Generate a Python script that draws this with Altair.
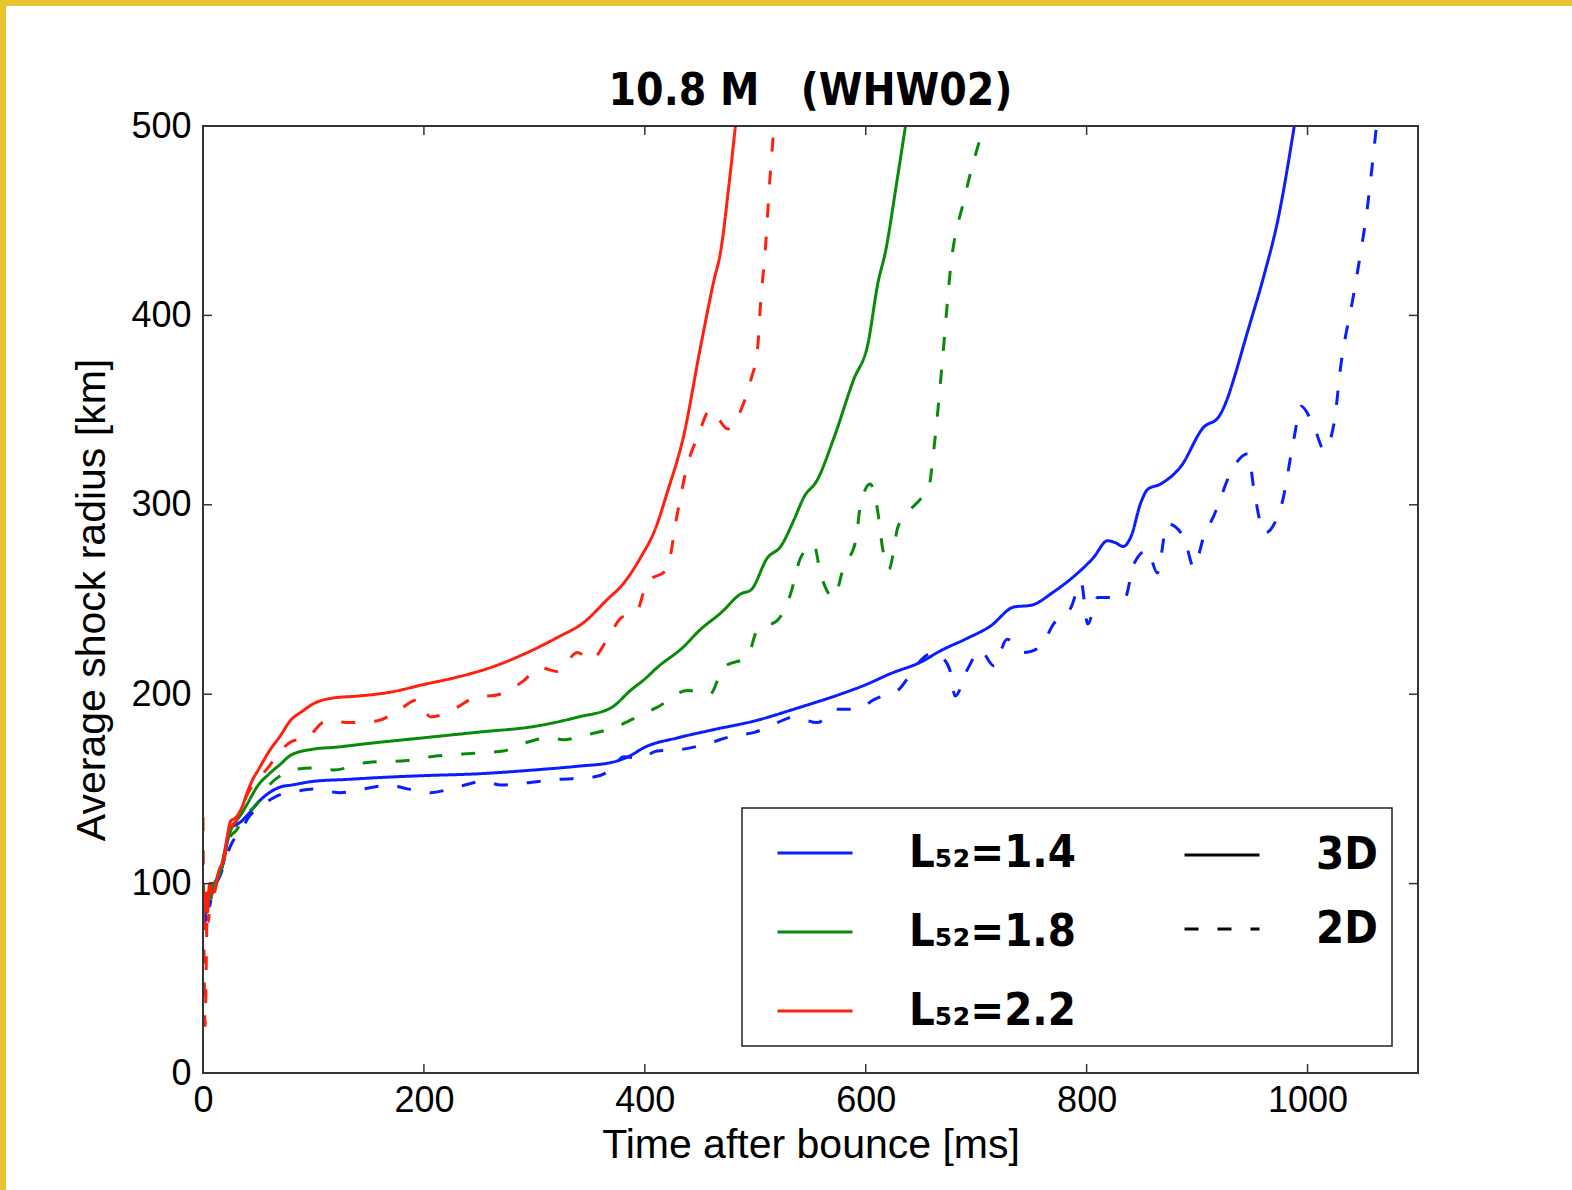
import altair as alt
import pandas as pd

AXIS_FONT = "Liberation Sans, Arial, sans-serif"
BOLD_FONT = "DejaVu Sans Condensed, DejaVu Sans, sans-serif"

# Average shock radius (km) against time after bounce (ms)
blue_3d_t = [0, 2, 4, 6, 8, 10, 14, 18, 22, 26, 30, 35, 40, 50, 60, 70, 80, 100, 130, 160, 200, 250,
             300, 340, 370, 385, 400, 430, 460, 500, 540, 577, 600, 623, 650, 668, 690, 713, 734, 750,
             770, 788, 806, 819, 826, 833, 840, 849, 855, 867, 885, 906, 919, 928, 933, 945, 961, 973, 988]
blue_3d_r = [90, 80, 95, 92, 100, 100, 105, 110, 122, 130, 131, 133, 136, 143, 148, 151, 152, 154, 155,
             156, 157, 158, 160, 162, 164, 167, 172, 177, 181, 186, 193, 200, 205, 211, 217, 223, 229,
             236, 246, 247, 254, 262, 272, 281, 280, 278, 283, 301, 308, 311, 320, 341, 346, 357, 366,
             390, 422, 450, 500]

blue_2d_t = [0, 2, 4, 6, 8, 12, 16, 20, 25, 30, 35, 40, 50, 60, 70, 79, 100, 124, 145, 169, 185, 206,
             230, 254, 270, 290, 320, 351, 369, 381, 395, 411, 435, 457, 480, 500, 520, 535, 556, 574,
             593, 607, 620, 629, 641, 650, 662, 668, 676, 681, 692, 704, 716, 728, 743, 758, 770, 786,
             795, 801, 810, 822, 834, 843, 855, 864, 873, 888, 897, 906, 915, 933, 946, 952, 961, 976,
             988, 994, 1006, 1015, 1024, 1030, 1042, 1055, 1062]
blue_2d_r = [95, 85, 92, 88, 95, 100, 105, 112, 120, 125, 128, 134, 140, 144, 147, 148, 150, 148, 150,
             152, 150, 148, 151, 154, 152, 153, 155, 156, 160, 167, 166, 170, 171, 174, 178, 180, 185,
             188, 185, 192, 192, 197, 200, 202, 211, 218, 222, 220, 213, 199, 213, 223, 215, 229, 222,
             225, 237, 246, 259, 237, 251, 251, 250, 269, 276, 264, 290, 283, 267, 283, 294, 320, 327,
             306, 285, 299, 336, 352, 341, 329, 343, 373, 412, 461, 498]

green_3d_t = [0, 3, 6, 10, 15, 20, 25, 30, 35, 40, 50, 60, 70, 80, 100, 120, 150, 200, 250, 300, 340,
              370, 387, 400, 411, 435, 450, 469, 487, 496, 511, 523, 535, 544, 556, 571, 589, 602, 611,
              618, 628, 636]
green_3d_r = [90, 85, 95, 100, 105, 118, 128, 133, 137, 142, 152, 158, 163, 168, 171, 172, 174, 177,
              180, 183, 188, 193, 202, 208, 214, 225, 234, 243, 253, 255, 272, 278, 292, 304, 313, 335,
              366, 385, 417, 434, 470, 500]

green_2d_t = [0, 3, 6, 10, 15, 20, 25, 30, 35, 40, 49, 60, 70, 79, 100, 118, 149, 185, 206, 251, 272,
              290, 314, 326, 351, 375, 393, 411, 439, 459, 471, 493, 502, 520, 532, 541, 553, 559, 571,
              580, 591, 595, 604, 611, 615, 621, 629, 638, 648, 657, 662, 666, 670, 677, 689, 707]
green_2d_r = [85, 95, 90, 100, 104, 115, 125, 128, 133, 137, 142, 152, 157, 160, 161, 160, 164, 165,
              167, 169, 170, 174, 177, 176, 179, 183, 188, 193, 202, 200, 214, 220, 234, 239, 253, 272,
              279, 264, 251, 267, 281, 299, 311, 296, 278, 266, 288, 296, 302, 309, 331, 354, 380, 426,
              461, 500]

red_3d_t = [0, 2, 4, 6, 8, 11, 14, 18, 22, 25, 30, 35, 40, 45, 50, 60, 70, 79, 90, 100, 118, 140, 169,
            199, 230, 260, 290, 321, 345, 366, 380, 396, 410, 420, 435, 450, 462, 469, 476, 482]
red_3d_r = [80, 95, 85, 100, 95, 97, 106, 112, 125, 133, 135, 140, 148, 155, 160, 170, 178, 186, 191,
            195, 198, 199, 201, 205, 209, 214, 221, 230, 238, 250, 258, 272, 288, 306, 336, 382, 417,
            435, 468, 500]

red_2d_t = [0, 2, 3, 4, 5, 7, 9, 12, 15, 18, 22, 26, 30, 35, 40, 50, 60, 70, 80, 94, 112, 133, 158,
            178, 194, 206, 230, 245, 269, 290, 305, 321, 339, 351, 366, 378, 393, 402, 420, 429, 439,
            448, 459, 467, 475, 487, 496, 502, 505, 509, 513, 517]
red_2d_r = [135, 25, 60, 95, 80, 100, 92, 100, 105, 110, 122, 130, 133, 140, 147, 155, 162, 170, 175,
            177, 186, 185, 186, 192, 197, 188, 193, 198, 200, 207, 214, 212, 222, 218, 229, 240, 244,
            259, 266, 294, 322, 336, 350, 345, 340, 350, 366, 382, 408, 434, 470, 500]

lum_labels = ["L\u2085\u2082=1.4", "L\u2085\u2082=1.8", "L\u2085\u2082=2.2"]
lum_colors = ["#0a1eff", "#0a8a0a", "#ff2010"]
dim_labels = ["3D", "2D"]

series = [
    (lum_labels[0], "3D", blue_3d_t, blue_3d_r),
    (lum_labels[0], "2D", blue_2d_t, blue_2d_r),
    (lum_labels[1], "3D", green_3d_t, green_3d_r),
    (lum_labels[1], "2D", green_2d_t, green_2d_r),
    (lum_labels[2], "3D", red_3d_t, red_3d_r),
    (lum_labels[2], "2D", red_2d_t, red_2d_r),
]
rows = []
for lum, dim, ts, rs in series:
    for t, r in zip(ts, rs):
        rows.append({"t": t, "r": r, "lum": lum, "dim": dim, "run": lum + " " + dim})
df = pd.DataFrame(rows)

x_ticks = [0, 200, 400, 600, 800, 1000]
y_ticks = [0, 100, 200, 300, 400, 500]

W, H = 1215, 947
xs = alt.Scale(domain=[0, 1100], nice=False, zero=False)
ys = alt.Scale(domain=[0, 500], nice=False)

label_style = dict(labelFont=AXIS_FONT, labelFontSize=36, labelColor="black", format="d",
                   labelFlush=False, labelOverlap=False,
                   titleFont=AXIS_FONT, titleFontSize=41, titleFontWeight="normal", titleColor="black",
                   grid=False, domain=False, ticks=False, zindex=2)
x_axis = alt.Axis(values=x_ticks, title="Time after bounce [ms]", labelPadding=10, titlePadding=7,
                  **label_style)
y_axis = alt.Axis(values=y_ticks, title="Average shock radius [km]", labelPadding=12, titlePadding=17,
                  **label_style)

one = alt.Data(values=[{}])

# white sheet over the yellow page border
sheet = alt.Chart(one).mark_rect(fill="white", clip=False).encode(
    x=alt.value(-197), x2=alt.value(1369), y=alt.value(-120), y2=alt.value(1064)
)

lines = alt.Chart(df).mark_line(strokeWidth=3, clip=True, interpolate="monotone").encode(
    x=alt.X("t:Q", scale=xs, axis=x_axis),
    y=alt.Y("r:Q", scale=ys, axis=y_axis),
    color=alt.Color("lum:N", scale=alt.Scale(domain=lum_labels, range=lum_colors),
                    legend=alt.Legend(orient="none", legendX=573, legendY=688, title=None,
                                      symbolType="stroke", symbolSize=5625, symbolStrokeWidth=3,
                                      symbolDash=[1, 0], labelFont=BOLD_FONT, labelFontSize=45,
                                      labelFontWeight="bold", labelColor="black", labelOffset=55,
                                      labelLimit=500, rowPadding=17, padding=0)),
    strokeDash=alt.StrokeDash("dim:N", scale=alt.Scale(domain=dim_labels, range=[[1, 0], [14, 19]]),
                              legend=alt.Legend(orient="none", legendX=980, legendY=690, title=None,
                                                symbolType="stroke", symbolSize=5625, symbolStrokeWidth=3,
                                                symbolStrokeColor="black", labelFont=BOLD_FONT,
                                                labelFontSize=45, labelFontWeight="bold",
                                                labelColor="black", labelOffset=55, labelLimit=500,
                                                rowPadding=12, padding=0)),
    detail="run:N",
)

tx = pd.DataFrame({"v": x_ticks[1:]})
ty = pd.DataFrame({"v": y_ticks[1:-1]})
tick_style = dict(color="#333333", strokeWidth=1.5)
bottom_ticks = alt.Chart(tx).mark_rule(**tick_style).encode(
    x=alt.X("v:Q", scale=xs, axis=x_axis), y=alt.value(H), y2=alt.value(H - 9))
top_ticks = alt.Chart(tx).mark_rule(**tick_style).encode(
    x=alt.X("v:Q", scale=xs, axis=x_axis), y=alt.value(0), y2=alt.value(9))
left_ticks = alt.Chart(ty).mark_rule(**tick_style).encode(
    y=alt.Y("v:Q", scale=ys, axis=y_axis), x=alt.value(0), x2=alt.value(9))
right_ticks = alt.Chart(ty).mark_rule(**tick_style).encode(
    y=alt.Y("v:Q", scale=ys, axis=y_axis), x=alt.value(W), x2=alt.value(W - 9))

# plot frame
frame = alt.Chart(one).mark_rect(fill=None, stroke="#333333", strokeWidth=2).encode(
    x=alt.value(0), x2=alt.value(W), y=alt.value(0), y2=alt.value(H)
)

legend_box = alt.Chart(one).mark_rect(fill="white", stroke="#222222", strokeWidth=1.5).encode(
    x=alt.value(539), x2=alt.value(1189), y=alt.value(682), y2=alt.value(920)
)

chart = alt.layer(
    sheet, lines, bottom_ticks, top_ticks, left_ticks, right_ticks, frame, legend_box
).properties(
    width=W, height=H,
    title=alt.TitleParams(text="10.8\u00a0M\u00a0\u00a0\u00a0(WHW02)", font=BOLD_FONT, fontSize=44,
                          fontWeight="bold", color="black", anchor="middle", offset=-108),
    autosize=alt.AutoSizeParams(type="none"),
    padding={"left": 203, "top": 126, "right": 154, "bottom": 117},
    background="#e6c530",
).configure_view(stroke=None, fill="white")

chart.save("out.html", embed_options={"renderer": "svg", "actions": False})
